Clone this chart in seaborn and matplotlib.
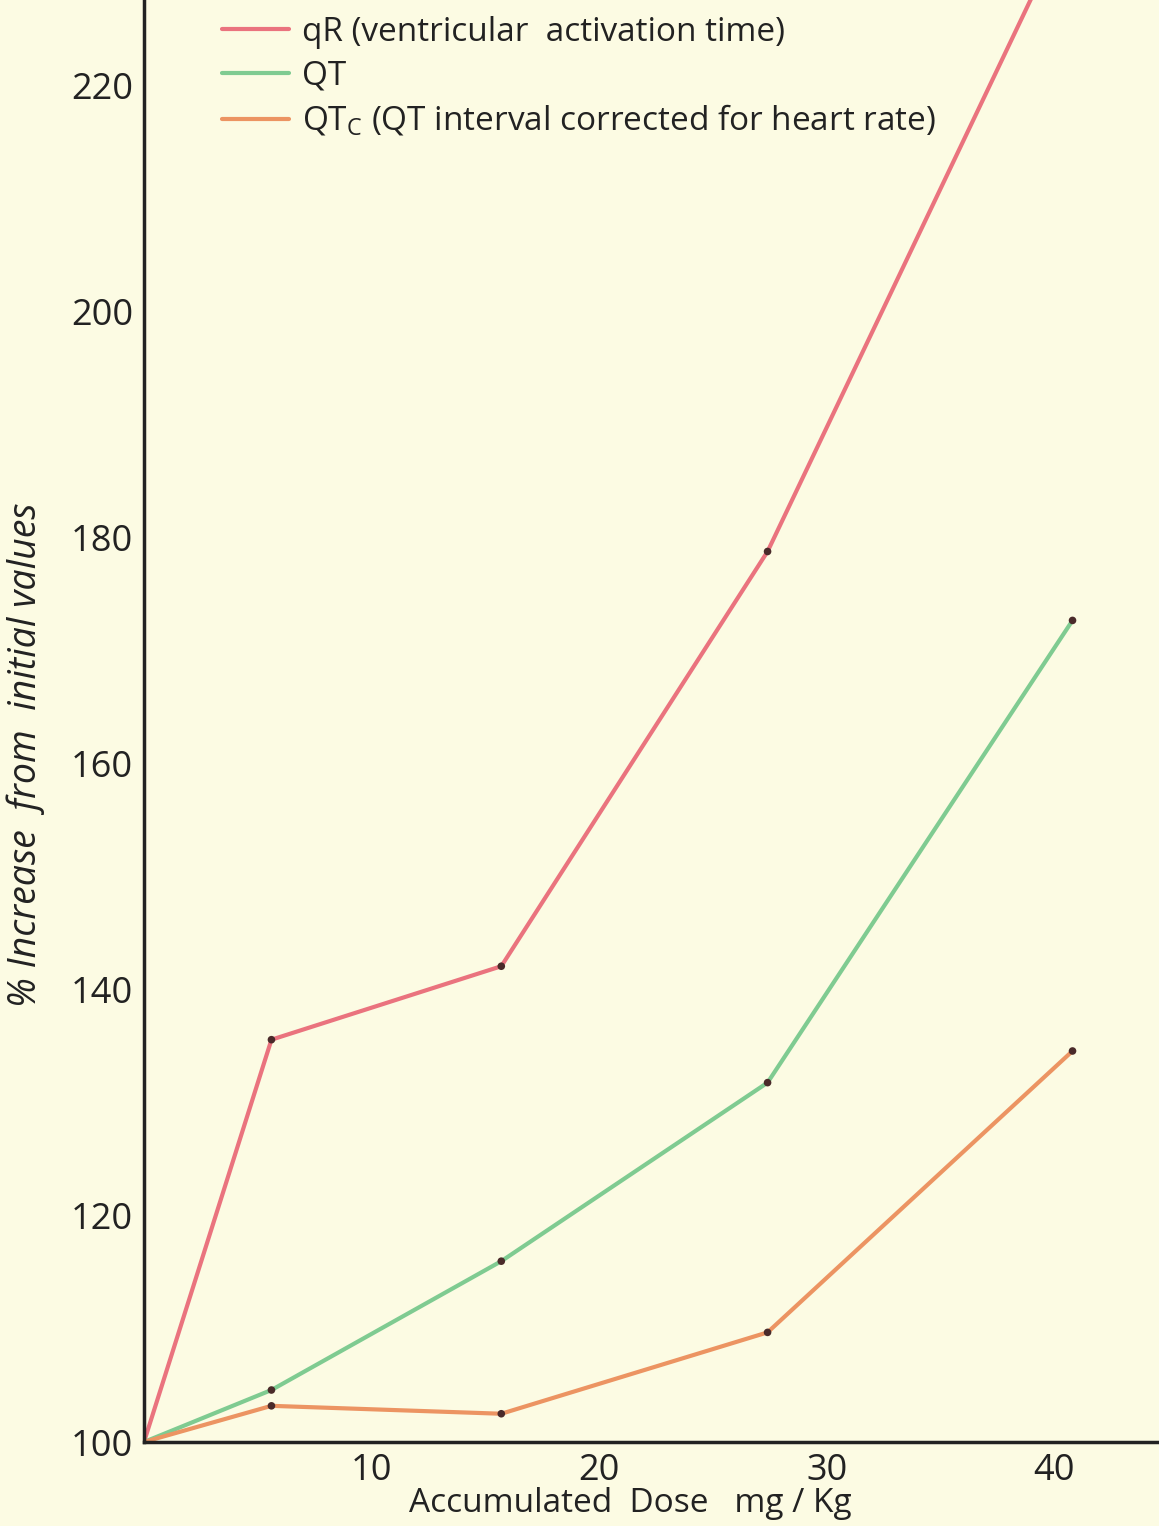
import numpy as np
import pandas as pd
import matplotlib
matplotlib.use("Agg")
import matplotlib.pyplot as plt
import seaborn as sns

# values
dose = [0, 5.6, 15.7, 27.4, 40.8]
qr = [100, 135.6, 142.1, 178.8, 235.4]
qt = [100, 104.6, 116.0, 131.8, 172.7]
qtc = [100, 103.2, 102.5, 109.7, 134.6]

labels = ["qR (ventricular  activation time)",
          "QT",
          "QT$_\\mathregular{C}$ (QT interval corrected for heart rate)"]
colors = ["#ea737e", "#7fcb91", "#ec9462"]

df = pd.DataFrame({
    "dose": dose * 3,
    "value": qr + qt + qtc,
    "series": [labels[0]] * 5 + [labels[1]] * 5 + [labels[2]] * 5,
})
pts = df[df["dose"] > 0]

sns.set_style("white")
plt.rcParams["font.family"] = ["Open Sans", "DejaVu Sans"]
plt.rcParams["mathtext.fontset"] = "custom"
plt.rcParams["mathtext.rm"] = "Open Sans"

bg = "#fcfbe3"
ink = "#222222"
fig = plt.figure(figsize=(11.59, 15.26), dpi=100, facecolor=bg)
ax = fig.add_axes([144 / 1159, 84 / 1526, 1 - 144 / 1159, 1442 / 1526])
ax.set_facecolor(bg)

sns.lineplot(data=df, x="dose", y="value", hue="series", palette=colors,
             linewidth=3, ax=ax, legend=True)
sns.scatterplot(data=pts, x="dose", y="value", color="#4a2a2a", s=30,
                edgecolor="none", ax=ax, legend=False, zorder=5)

ax.set_xlim(0, 44.6)
ax.set_ylim(100, 227.6)
ax.set_xticks([10, 20, 30, 40])
ax.set_xticks([5, 15, 25, 35], minor=True)
ax.set_yticks([100, 120, 140, 160, 180, 200, 220])
ax.set_yticks([110, 130, 150, 170, 190, 210], minor=True)
ax.tick_params(axis="both", which="both", direction="in", length=14, width=2,
               labelsize=26, pad=8, colors=ink)
for s in ["top", "right"]:
    ax.spines[s].set_visible(False)
for s in ["left", "bottom"]:
    ax.spines[s].set_linewidth(2.5)
    ax.spines[s].set_color(ink)

ax.set_xlabel("Accumulated  Dose   mg / Kg", fontsize=24, color=ink, va="center")
ax.xaxis.set_label_coords((630 - 144) / 1015, (1442 - 1503) / 1442)
ax.set_ylabel("% Increase  from  initial values", fontsize=27,
              style="italic", color=ink)
ax.yaxis.set_label_coords(-0.098, (1442 - 755) / 1442)

handles, _ = ax.get_legend_handles_labels()
leg = ax.legend(handles, labels, loc="upper left",
                bbox_to_anchor=((222 - 144) / 1015, 1 - 16 / 1442),
                frameon=False, fontsize=24, handlelength=2.0,
                handletextpad=0.4, labelspacing=0.32, borderpad=0,
                borderaxespad=0)
for t in leg.get_texts():
    t.set_color(ink)
for h in leg.get_lines():
    h.set_linewidth(3)

fig.savefig("out.png", dpi=100, facecolor=bg)
